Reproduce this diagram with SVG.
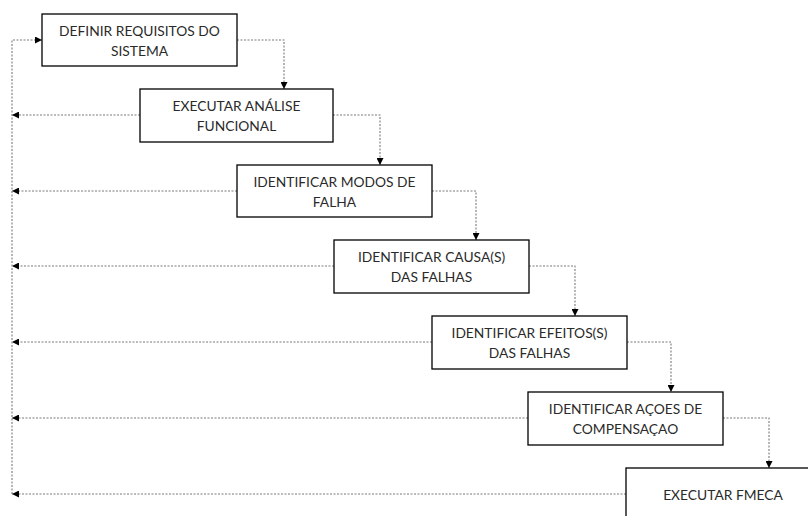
<svg xmlns="http://www.w3.org/2000/svg" width="808" height="516" viewBox="0 0 808 516">
<style>
.box{fill:#fff;stroke:#000;stroke-width:1.3}
.t{font-family:Lato,"Liberation Sans",sans-serif;font-size:13.8px;fill:#2a2a2a;text-anchor:middle}
.c{fill:none;stroke:#7a7a7a;stroke-width:1.1;stroke-dasharray:2,1.5}
</style>
<defs>
<marker id="ah" viewBox="0 0 10 10" refX="10" refY="5" markerWidth="7" markerHeight="7" markerUnits="userSpaceOnUse" orient="auto">
<path d="M0,0 L10,5 L0,10 z" fill="#000"/>
</marker>
</defs>
<rect width="808" height="516" fill="#fff"/>
<g id="connectors">
<path class="c" d="M237,40 H284 V89" marker-end="url(#ah)"/>
<path class="c" d="M333,115 H380 V165" marker-end="url(#ah)"/>
<path class="c" d="M432,191 H476 V240" marker-end="url(#ah)"/>
<path class="c" d="M529,266 H575 V316" marker-end="url(#ah)"/>
<path class="c" d="M627,342 H671 V392" marker-end="url(#ah)"/>
<path class="c" d="M723,418 H769 V468" marker-end="url(#ah)"/>
<path class="c" d="M140,115 H12" marker-end="url(#ah)"/>
<path class="c" d="M237,191 H12" marker-end="url(#ah)"/>
<path class="c" d="M334,266 H12" marker-end="url(#ah)"/>
<path class="c" d="M432,342 H12" marker-end="url(#ah)"/>
<path class="c" d="M528,418 H12" marker-end="url(#ah)"/>
<path class="c" d="M626,494 H12" marker-end="url(#ah)"/>
<path class="c" d="M12,494 V40 H42" marker-end="url(#ah)"/>
</g>
<g id="n1"><rect class="box" x="42" y="14" width="195" height="52"/><text class="t" x="139.5" y="36">DEFINIR REQUISITOS DO</text><text class="t" x="139.5" y="56">SISTEMA</text></g>
<g id="n2"><rect class="box" x="140" y="89" width="193" height="53"/><text class="t" x="236.5" y="111">EXECUTAR ANÁLISE</text><text class="t" x="236.5" y="131">FUNCIONAL</text></g>
<g id="n3"><rect class="box" x="237" y="165" width="195" height="52"/><text class="t" x="334.5" y="187">IDENTIFICAR MODOS DE</text><text class="t" x="334.5" y="207">FALHA</text></g>
<g id="n4"><rect class="box" x="334" y="240" width="195" height="53"/><text class="t" x="431.5" y="262">IDENTIFICAR CAUSA(S)</text><text class="t" x="431.5" y="282">DAS FALHAS</text></g>
<g id="n5"><rect class="box" x="432" y="316" width="195" height="53"/><text class="t" x="529.5" y="338">IDENTIFICAR EFEITOS(S)</text><text class="t" x="529.5" y="358">DAS FALHAS</text></g>
<g id="n6"><rect class="box" x="528" y="392" width="195" height="53"/><text class="t" x="625.5" y="414">IDENTIFICAR AÇOES DE</text><text class="t" x="625.5" y="434">COMPENSAÇAO</text></g>
<g id="n7"><rect class="box" x="626" y="468" width="195" height="60"/><text class="t" x="723" y="500">EXECUTAR FMECA</text></g>
</svg>
